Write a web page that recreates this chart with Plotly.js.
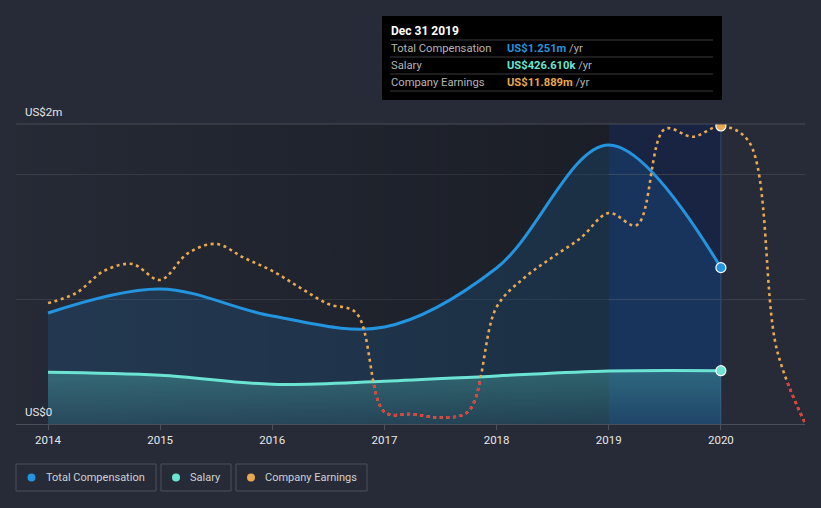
<!DOCTYPE html>
<html><head><meta charset="utf-8">
<script src="https://cdn.plot.ly/plotly-3.0.1.min.js"></script>
<style>html,body{margin:0;padding:0;background:#262b37;}#chart{width:821px;height:508px;}</style>
</head><body><div id="chart"></div>
<script>
// ---- data (US$ millions) ----
const compYears = [2014, 2015, 2016, 2017, 2018, 2019, 2020];
const totalComp = [0.888, 1.08, 0.864, 0.776, 1.248, 2.232, 1.251];
const salary    = [0.414, 0.39, 0.318, 0.342, 0.385, 0.424, 0.42661];
const earnDates = [2014, 2014.25, 2014.5, 2014.75, 2015, 2015.25, 2015.5, 2015.75,
                   2016, 2016.25, 2016.5, 2016.75, 2017, 2017.25, 2017.5, 2017.75,
                   2018, 2018.25, 2018.5, 2018.75, 2019, 2019.25, 2019.5, 2019.75,
                   2020, 2020.25, 2020.5, 2020.75];
const earnings  = [3.67, 4.13, 5.16, 5.48, 4.74, 5.99, 6.41, 5.76,
                   5.16, 4.37, 3.62, 3.20, -1.39, -1.49, -1.65, -1.35,
                   3.48, 4.85, 5.80, 6.69, 7.85, 7.29, 11.75, 11.39,
                   11.889, 11.16, 1.49, -1.90];
const xTickVals = [2014, 2015, 2016, 2017, 2018, 2019, 2020];
const xTickText = ['2014', '2015', '2016', '2017', '2018', '2019', '2020'];
const hoverDate = 'Dec 31 2019';
const legendNames = ['Total Compensation', 'Salary', 'Company Earnings'];

// ---- styling / geometry ----
const W = 821, H = 508, L = 16, R = 16, T = 124, B = 84;
const PW = W - L - R, PH = H - T - B;
const px = v => (v - L) / PW;
const py = v => (H - B - v) / PH;
const X_RANGE = [2013.7147, 2020.75];
const COMP_RANGE = [0, 2.4];
const EARN_RANGE = [-1.9506, 11.982];
const NEG_DOMAIN = (0 - EARN_RANGE[0]) / (EARN_RANGE[1] - EARN_RANGE[0]);
const BLUE = '#2394df', TEAL = '#6ce4d3', ORANGE = '#e8a951', RED = '#e5393f';
const FONT = 'Roboto, "Open Sans", sans-serif';

const last = compYears.length - 1;
const hoverX = compYears[last];
const bandStart = compYears[last - 1];
const hoverEarnIdx = earnDates.indexOf(hoverX);

const dots = {color: ORANGE, width: 2.6, dash: '3px,3.6px', shape: 'spline', simplify: false};

const traces = [
  { // background darkening toward the highlighted year
    x: [X_RANGE[0], bandStart, bandStart, X_RANGE[0], X_RANGE[0]],
    y: [COMP_RANGE[0], COMP_RANGE[0], COMP_RANGE[1], COMP_RANGE[1], COMP_RANGE[0]],
    mode: 'none', fill: 'toself', hoverinfo: 'skip', showlegend: false,
    fillgradient: {type: 'horizontal', colorscale: [[0, 'rgba(0,0,0,0.03)'], [1, 'rgba(0,0,0,0.30)']]}
  },
  {
    x: compYears, y: totalComp, name: legendNames[0], mode: 'lines', fill: 'tozeroy',
    fillcolor: 'rgba(33,150,243,0.15)',
    line: {color: BLUE, width: 3, shape: 'spline'}, showlegend: false
  },
  {
    x: compYears, y: salary, name: legendNames[1], mode: 'lines', fill: 'tozeroy',
    fillgradient: {type: 'vertical', colorscale: [[0, 'rgba(94,224,210,0.10)'], [1, 'rgba(94,224,210,0.30)']]},
    line: {color: TEAL, width: 3, shape: 'spline'}, showlegend: false
  },
  {
    x: earnDates, y: earnings, name: legendNames[2], yaxis: 'y2', mode: 'lines',
    line: dots, showlegend: false
  },
  { // negative earnings drawn red (clipped to the below-zero band)
    x: earnDates, y: earnings, yaxis: 'y3', mode: 'lines',
    line: Object.assign({}, dots, {color: RED}), showlegend: false, hoverinfo: 'skip'
  },
  {
    x: [hoverX], y: [totalComp[last]], mode: 'markers', showlegend: false,
    marker: {size: 10, color: BLUE, line: {color: '#ffffff', width: 1.2}}
  },
  {
    x: [hoverX], y: [salary[last]], mode: 'markers', showlegend: false,
    marker: {size: 10, color: TEAL, line: {color: '#ffffff', width: 1.2}}
  },
  {
    x: [earnDates[hoverEarnIdx]], y: [earnings[hoverEarnIdx]], yaxis: 'y2', mode: 'markers', showlegend: false,
    marker: {size: 10, color: ORANGE, line: {color: '#ffffff', width: 1.2}}
  }
];

const shapes = [
  {type: 'rect', xref: 'x', yref: 'paper', x0: bandStart, x1: hoverX, y0: 0, y1: 1,
   fillcolor: 'rgba(10,30,78,0.5)', line: {width: 0}, layer: 'below'},
  {type: 'line', xref: 'x', yref: 'paper', x0: hoverX, x1: hoverX, y0: 0, y1: 1,
   line: {color: 'rgba(90,120,165,0.45)', width: 1}, layer: 'below'},
  {type: 'line', xref: 'paper', yref: 'paper', x0: 0, x1: 1, y0: 1, y1: 1,
   line: {color: '#474c57', width: 1}},
  // tooltip
  {type: 'rect', xref: 'paper', yref: 'paper', x0: px(382), x1: px(722), y0: py(16), y1: py(100),
   fillcolor: '#000000', line: {width: 0}}
];
[40, 57, 74, 91].forEach(v => shapes.push({
  type: 'line', xref: 'paper', yref: 'paper', x0: px(390), x1: px(713), y0: py(v), y1: py(v),
  line: {color: '#3b3b3b', width: 1}
}));

// legend boxes
const legendBoxes = [[16, 156], [161, 231], [236, 367]];
const legendDots = [31.5, 176, 251];
const legendText = [44, 187.5, 263];
const legendColors = [BLUE, TEAL, ORANGE];
legendBoxes.forEach((b, i) => {
  shapes.push({type: 'rect', xref: 'paper', yref: 'paper', x0: px(b[0]), x1: px(b[1]), y0: py(464), y1: py(491),
    line: {color: '#4b505c', width: 1}, fillcolor: 'rgba(0,0,0,0)'});
  shapes.push({type: 'circle', xref: 'paper', yref: 'paper', xsizemode: 'pixel', ysizemode: 'pixel',
    xanchor: px(legendDots[i]), yanchor: py(477.5), x0: -4, x1: 4, y0: -4, y1: 4,
    fillcolor: legendColors[i], line: {width: 0}});
});

const ann = (x, y, text, opts) => Object.assign({
  xref: 'paper', yref: 'paper', x: px(x), y: py(y), text: text, showarrow: false,
  xanchor: 'left', yanchor: 'middle', font: {family: FONT, size: 11.2, color: '#b5b5b5'}
}, opts || {});

const fmtM = v => 'US$' + v.toFixed(3) + 'm';
const fmtK = v => 'US$' + (v * 1000).toFixed(3) + 'k';
const val = (s, c) => '<b><span style="color:' + c + '">' + s + '</span></b> /yr';

const annotations = [
  ann(23, 112, 'US$2m', {font: {family: FONT, size: 11.5, color: '#e6e6e6'}}),
  ann(23, 412, 'US$0', {font: {family: FONT, size: 11.5, color: '#e6e6e6'}}),
  ann(389, 31, '<b>' + hoverDate + '</b>', {font: {family: FONT, size: 12, color: '#ffffff'}}),
  ann(389, 48.5, legendNames[0]),
  ann(389, 65.5, legendNames[1]),
  ann(389, 82.5, legendNames[2]),
  ann(505, 48.5, val(fmtM(totalComp[last]), BLUE)),
  ann(505, 65.5, val(fmtK(salary[last]), TEAL)),
  ann(505, 82.5, val(fmtM(earnings[hoverEarnIdx]), ORANGE))
];
legendNames.forEach((n, i) => annotations.push(
  ann(legendText[i], 477.5, n, {font: {family: FONT, size: 11, color: '#cfd1d4'}})));

const layout = {
  width: W, height: H,
  margin: {l: L, r: R, t: T, b: B, pad: 0},
  paper_bgcolor: '#262b37', plot_bgcolor: 'rgba(0,0,0,0)',
  font: {family: FONT, color: '#e6e6e6'},
  showlegend: false,
  xaxis: {range: X_RANGE, tickvals: xTickVals, ticktext: xTickText, showgrid: false, zeroline: false,
          showline: true, linecolor: '#4b505b', linewidth: 1, ticks: 'outside', ticklen: 5,
          tickcolor: '#4b505b', tickfont: {family: FONT, size: 11.5, color: '#e8e8e8'}, anchor: 'y'},
  yaxis: {range: COMP_RANGE, tickvals: [1, 2], showticklabels: false, showgrid: true,
          gridcolor: '#3a3f4a', gridwidth: 1, zeroline: false, showline: false, ticks: ''},
  yaxis2: {range: EARN_RANGE, overlaying: 'y', visible: false, showgrid: false, zeroline: false},
  yaxis3: {range: [EARN_RANGE[0], 0], domain: [0, NEG_DOMAIN], anchor: 'x', visible: false,
           showgrid: false, zeroline: false},
  shapes: shapes,
  annotations: annotations
};

Plotly.newPlot('chart', traces, layout, {staticPlot: true, displayModeBar: false});
</script></body></html>
